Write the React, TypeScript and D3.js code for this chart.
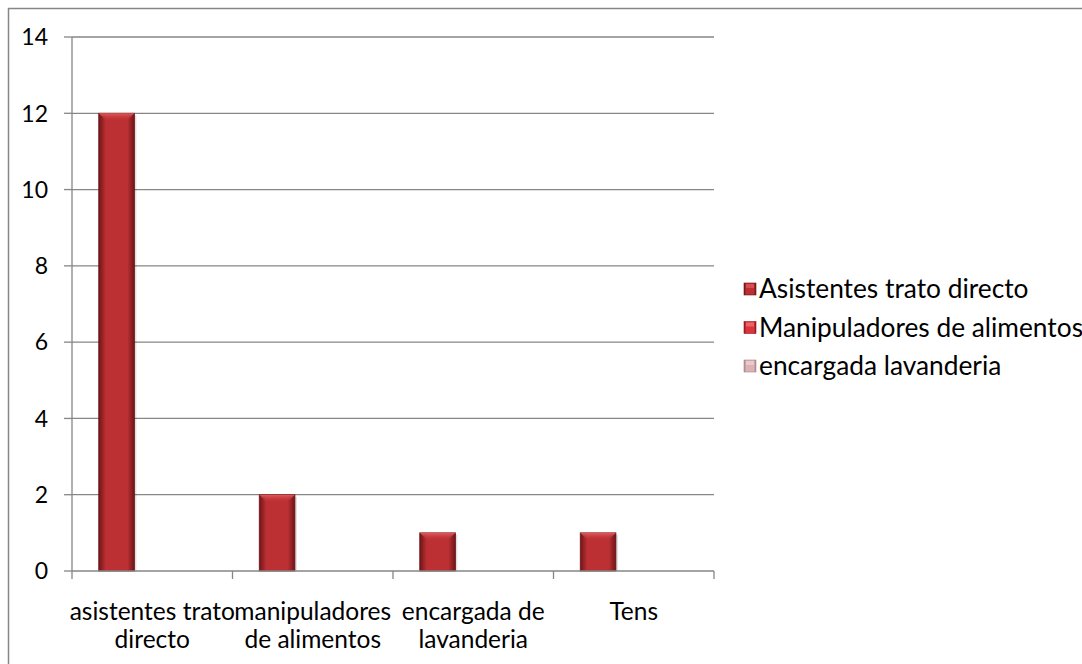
import React from "react";
import * as d3 from "d3";

const categories = ["asistentes trato directo", "manipuladores de alimentos", "encargada de lavanderia", "Tens"];
const categoryLines = [["asistentes trato", "directo"], ["manipuladores", "de alimentos"], ["encargada de", "lavanderia"], ["Tens"]];
const seriesNames = ["Asistentes trato directo", "Manipuladores de alimentos", "encargada lavanderia"];
const seriesAsistentes = [12, 2, 1, 1];
const seriesManipuladores = [0, 0, 0, 0];
const seriesLavanderia = [0, 0, 0, 0];
const yTicks = [0, 2, 4, 6, 8, 10, 12, 14];

const allSeries = [seriesAsistentes, seriesManipuladores, seriesLavanderia];
const seriesColors = [
  { edge: "#6e1517", mid: "#bc3034", top: "#e45a5e" },
  { edge: "#8e1a1e", mid: "#dc343a", top: "#f07a7e" },
  { edge: "#a8878a", mid: "#dcb3b5", top: "#f1d3d4" },
];

const FONT = "Lato, 'Liberation Sans', sans-serif";

export default function App() {
  const left = 72, right = 714, top = 37, bottom = 571;
  const y = d3.scaleLinear().domain([0, 14]).range([bottom, top]);
  const x0 = d3.scaleBand<string>().domain(categories).range([left, right]).paddingInner(0).paddingOuter(0);
  const x1 = d3.scaleBand<number>().domain([0, 1, 2]).range([0, x0.bandwidth()]).paddingInner(0).paddingOuter(0.75);
  const bw = x1.bandwidth();
  const grid = "#868686";

  return (
    <svg width={1082} height={664} style={{ position: "absolute", left: 0, top: 0, background: "#fff" }} fontFamily={FONT}>
      <defs>
        {seriesColors.map((c, i) => (
          <React.Fragment key={i}>
            <linearGradient id={`g${i}`} x1="0" x2="1" y1="0" y2="0">
              <stop offset="0" stopColor={c.edge} />
              <stop offset="0.2" stopColor={c.mid} />
              <stop offset="0.5" stopColor={c.mid} />
              <stop offset="0.8" stopColor={c.mid} />
              <stop offset="1" stopColor={c.edge} />
            </linearGradient>
            <linearGradient id={`t${i}`} x1="0" x2="0" y1="0" y2="1">
              <stop offset="0" stopColor={c.top} />
              <stop offset="1" stopColor={c.mid} stopOpacity="0" />
            </linearGradient>
          </React.Fragment>
        ))}
      </defs>
      <rect x={8.5} y={8.5} width={1090} height={680} fill="#fff" stroke={grid} strokeWidth={1.5} />
      {yTicks.map((t) => (
        <g key={t}>
          {t > 0 && <line x1={left} x2={right} y1={y(t)} y2={y(t)} stroke={grid} strokeWidth={1.3} />}
          <line x1={64} x2={left} y1={y(t)} y2={y(t)} stroke={grid} strokeWidth={1.3} />
          <text x={48} y={y(t)} dy="0.36em" textAnchor="end" fontSize={23} fill="#000">{t}</text>
        </g>
      ))}
      {allSeries.map((vals, si) =>
        vals.map((v, ci) => {
          if (v <= 0) return null;
          const bx = (x0(categories[ci]) as number) + (x1(si) as number);
          const by = y(v);
          const h = bottom - by;
          const bev = Math.min(8, h / 3);
          return (
            <g key={`${si}-${ci}`}>
              <rect x={bx + 2} y={by + 2} width={bw} height={h - 2} fill="#000" opacity={0.12} />
              <rect x={bx} y={by} width={bw} height={h} fill={`url(#g${si})`} stroke={seriesColors[si].edge} strokeWidth={0.8} />
              <polygon
                points={`${bx},${by} ${bx + bw},${by} ${bx + bw - bev},${by + bev} ${bx + bev},${by + bev}`}
                fill={`url(#t${si})`}
              />
            </g>
          );
        })
      )}
      <line x1={left} x2={right} y1={bottom} y2={bottom} stroke={grid} strokeWidth={1.3} />
      <line x1={left} x2={left} y1={top} y2={bottom} stroke={grid} strokeWidth={1.3} />
      {[...categories.map((c) => x0(c) as number), right].map((xx, i) => (
        <line key={i} x1={xx} x2={xx} y1={bottom} y2={bottom + 8} stroke={grid} strokeWidth={1.3} />
      ))}
      {categories.map((c, i) => {
        const cx = (x0(c) as number) + x0.bandwidth() / 2;
        return (
          <text key={c} x={cx} textAnchor="middle" fontSize={24.5} fill="#000">
            {categoryLines[i].map((ln, li) => (
              <tspan key={li} x={cx} y={620 + li * 28}>{ln}</tspan>
            ))}
          </text>
        );
      })}
      {seriesNames.map((n, i) => {
        const ly = 289 + i * 38.5;
        return (
          <g key={n}>
            <rect x={744} y={ly - 6} width={12} height={12} fill={`url(#g${i})`} stroke={seriesColors[i].edge} strokeWidth={0.6} />
            <rect x={746} y={ly - 5} width={8} height={4} fill={seriesColors[i].top} opacity={0.7} />
            <text x={759} y={ly} dy="0.36em" fontSize={26.3} fill="#000">{n}</text>
          </g>
        );
      })}
    </svg>
  );
}
